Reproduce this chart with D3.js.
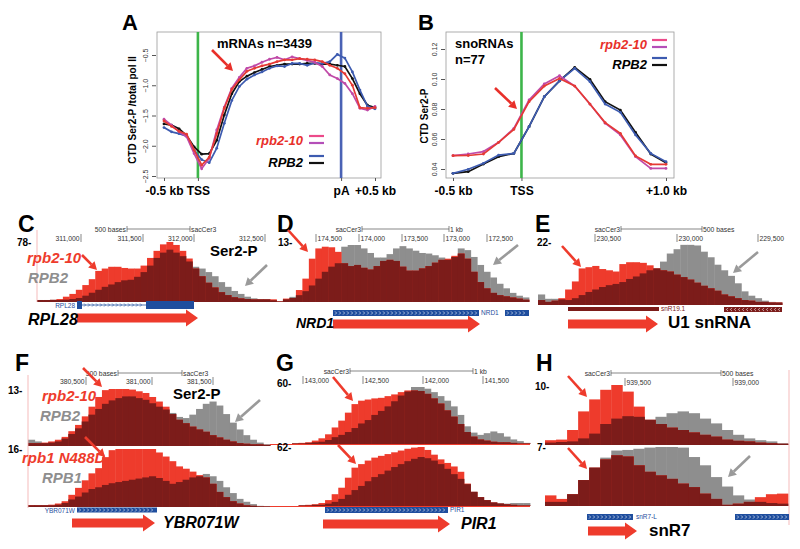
<!DOCTYPE html>
<html>
<head>
<meta charset="utf-8">
<script src="https://cdn.jsdelivr.net/npm/d3@7"></script>
<style>
  body { margin: 0; background: #fff; }
  svg { font-family: "Liberation Sans", Arial, Helvetica, sans-serif; }
</style>
</head>
<body>
<svg id="fig" width="800" height="549"></svg>
<script>
// ---------- data: metagene profiles ----------
// panel A: 29 bins, -0.5 kb .. TSS .. gene body .. pA .. +0.5 kb
const mrnaRed     = [-1.59,-1.68,-1.76,-1.81,-2.07,-2.32,-2.19,-1.80,-1.38,-1.07,-0.91,-0.77,-0.72,-0.68,-0.65,-0.61,-0.58,-0.58,-0.56,-0.57,-0.58,-0.61,-0.67,-0.72,-0.81,-1.00,-1.37,-1.38,-1.37];
const mrnaMagenta = [-1.56,-1.66,-1.77,-1.85,-2.13,-2.38,-2.21,-1.74,-1.36,-1.05,-0.87,-0.72,-0.68,-0.62,-0.57,-0.54,-0.58,-0.53,-0.56,-0.59,-0.62,-0.69,-0.83,-0.89,-0.97,-1.14,-1.38,-1.41,-1.35];
const mrnaBlack   = [-1.64,-1.66,-1.72,-1.83,-2.02,-2.14,-2.13,-1.91,-1.49,-1.14,-0.94,-0.85,-0.79,-0.74,-0.69,-0.67,-0.65,-0.65,-0.65,-0.64,-0.64,-0.65,-0.65,-0.67,-0.69,-0.89,-1.14,-1.33,-1.37];
const mrnaBlue    = [-1.70,-1.77,-1.80,-1.84,-2.07,-2.23,-2.28,-2.04,-1.63,-1.25,-1.02,-0.90,-0.83,-0.78,-0.72,-0.68,-0.69,-0.64,-0.64,-0.67,-0.63,-0.64,-0.61,-0.49,-0.55,-0.78,-1.08,-1.35,-1.39];
const mrnaYTicks  = [-2.5, -2.0, -1.5, -1.0, -0.5];
const mrnaXTicks  = [0, 4.5, 23.5, 28];
const mrnaXLabels = ["-0.5 kb", "TSS", "pA", "+0.5 kb"];

// panel B: 15 bins, -0.5 kb .. +1.0 kb
const snoRed     = [0.0489,0.0490,0.0500,0.0578,0.0664,0.0849,0.0953,0.1004,0.0953,0.0833,0.0709,0.0638,0.0487,0.0431,0.0431];
const snoMagenta = [0.0489,0.0500,0.0516,0.0578,0.0670,0.0860,0.0967,0.1022,0.0953,0.0833,0.0705,0.0627,0.0482,0.0404,0.0404];
const snoBlue    = [0.0371,0.0398,0.0438,0.0493,0.0504,0.0682,0.0882,0.0987,0.1071,0.0982,0.0833,0.0778,0.0627,0.0504,0.0449];
const snoBlack   = [0.0371,0.0382,0.0433,0.0482,0.0504,0.0682,0.0882,0.0987,0.1078,0.0998,0.0849,0.0793,0.0644,0.0500,0.0442];
const snoYTicks  = [0.04, 0.06, 0.08, 0.10, 0.12];
const snoXTicks  = [0, 4.5, 14];
const snoXLabels = ["-0.5 kb", "TSS", "+1.0 kb"];

// ---------- data: genome browser tracks (percent of track scale) ----------
const rpl28Mut = [1.7,1.7,1.9,3.3,7.3,12,19,27,37,51,55,58,58,56,55,55,60,73,85,96,100,95,85,72,55,42,31,23,15,10,6.4,4.5,3.3,2.8,2.8,2.8];
const rpl28Wt  = [1.7,1.7,1.9,1.7,2.3,3.3,5.1,9,14,19,24,28,32,35,36,41,49,60,73,82,87,82,76,67,58,55,49,42,32,24,17,12,7.3,4.5,3.3,3.3];
const nrd1Mut  = [4.7,1,6,7,21,41,76,94,97,96,88,68,63,65,60,57,63,72,74,72,62,55,55,59,63,69,74,76,81,85,76,53,35,24,16,12,10,8,6,4];
const nrd1Wt   = [3,1,4.7,9,12,19,29,41,53,62,68,97,100,100,94,86,78,78,84,94,98,94,90,86,85,82,78,74,79,94,91,79,65,53,43,32,24,16,11,8];
const u1Mut    = [8,5,7,11,25,38,59,61,63,58,56,54,66,69,69,68,64,59,56,54,49,45,41,36,31,27,23,17,14,11,8,7,5,5,4,4];
const u1Wt     = [17,10,10,9,8,11,16,21,25,29,32,34,37,42,46,51,56,59,70,83,90,97,97,96,86,77,65,56,47,35,22,15,11,7,5,4];
const ybrMut   = [5,5,6,8,11,16,26,37,52,69,86,98,100,100,100,99,96,93,86,78,69,56,46,40,34,29,25,19,15,11,8,5,4,3,3,2];
const ybrWt    = [11,8,5,6,8,13,21,31,43,55,65,74,80,84,87,87,84,81,75,69,64,58,51,49,55,65,74,78,71,56,41,29,19,11,6,3];
const ybrRpb1Mut = [3,3,3,4,6,10,21,33,46,58,67,86,98,100,100,100,100,100,100,94,87,79,70,66,61,55,51,40,26,17,10,6,3,2,1,1];
const ybrRpb1Wt  = [3,3,3,3,4,7,13,18,25,31,34,38,41,43,45,47,49,51,53,50,45,40,43,47,51,53,57,53,45,34,24,14,9,5,2,1];
const pir1Mut  = [1,2,3,6,10,17,29,41,55,70,76,78,80,81,84,87,91,94,94,93,88,80,71,59,48,35,21,13,8,6,4,3,3,2,1,1];
const pir1Wt   = [1,1,2,3,4,7,12,16,21,28,36,42,51,58,66,75,85,92,100,100,97,91,84,76,66,51,31,20,16,19,22,19,13,8,5,2];
const pir1Rpb1Mut = [0,1,2,3,5,10,20,31,48,65,71,77,82,85,88,91,94,97,99,100,95,87,79,73,67,58,38,24,15,10,6,4,3,2,1,1];
const pir1Rpb1Wt  = [0,1,1,2,2,4,7,12,19,27,34,42,49,54,60,66,71,76,80,83,81,77,71,63,54,46,37,24,15,10,6,5,4,5,5,5];
const snr7Mut  = [8,9,25,56,76,92,100,89,64,42,35,29,25,21,17,14,9,7,6,4,3,2];
const snr7Wt   = [4,5,6,11,19,35,44,48,47,42,47,53,56,53,44,36,25,17,11,8,6,3];
const snr7Rpb1Mut = [18,12,20,44,65,79,86,84,69,58,52,46,38,32,21,12,2,4,7,15,20,21];
const snr7Rpb1Wt  = [7,7,20,44,65,82,94,95,97,99,100,100,99,83,69,49,33,18,11,7,5,4];

// ---------- drawing ----------
const svg = d3.select('#fig');
const RED = '#ee3b2c', DARK = '#7c1c1a', GREY = '#8e8e8e', BLUE = '#1f4e9e';

function txt(x, y, s, o = {}) {
    return svg.append('text').attr('x', x).attr('y', y).text(s)
        .attr('font-size', o.size || 10)
        .attr('font-weight', o.weight || 'normal')
        .attr('font-style', o.style || 'normal')
        .attr('fill', o.fill || '#000')
        .attr('text-anchor', o.anchor || 'start');
}

function arrow(x1, y1, x2, y2, color) {
    const a = Math.atan2(y2 - y1, x2 - x1), hl = 8, hw = 4.5;
    const bx = x2 - hl * Math.cos(a), by = y2 - hl * Math.sin(a);
    svg.append('line').attr('x1', x1).attr('y1', y1).attr('x2', bx).attr('y2', by)
        .attr('stroke', color).attr('stroke-width', 2.6);
    const px = -Math.sin(a) * hw, py = Math.cos(a) * hw;
    svg.append('path')
        .attr('d', `M${x2},${y2}L${bx + px},${by + py}L${bx - px},${by - py}Z`)
        .attr('fill', color);
}

function drawProfile(cfg) {
    const g = svg.append('g');
    const [bx0, by0, bx1, by1] = cfg.box;
    const x = d3.scaleLinear().domain([0, cfg.n - 1]).range(cfg.xr);
    const y = d3.scaleLinear().domain(cfg.yd).range(cfg.yr);

    g.append('rect').attr('x', bx0).attr('y', by0).attr('width', bx1 - bx0).attr('height', by1 - by0)
        .attr('fill', 'none').attr('stroke', '#9a9a9a').attr('stroke-width', 0.8);

    const ya = g.append('g').attr('transform', `translate(${bx0 - 1},0)`)
        .call(d3.axisLeft(y).tickValues(cfg.yTicks).tickSize(4).tickFormat(cfg.yFmt));
    ya.select('.domain').remove();
    ya.selectAll('line').attr('stroke', '#555');
    ya.selectAll('text').attr('x', 0).attr('dy', 0)
        .attr('transform', 'translate(-8,0) rotate(-90)')
        .attr('text-anchor', 'middle').attr('font-size', 7).attr('fill', '#333')
        .attr('font-family', '"Liberation Sans", Arial, sans-serif');

    const xa = g.append('g').attr('transform', `translate(0,${by1})`)
        .call(d3.axisBottom(x).tickValues(cfg.xTicks).tickSize(3).tickPadding(5)
            .tickFormat((d, i) => cfg.xLabels[i]));
    xa.select('.domain').remove();
    xa.selectAll('line').attr('stroke', '#555');
    xa.selectAll('text').attr('font-size', 12).attr('font-weight', 'bold').attr('fill', '#000')
        .attr('font-family', '"Liberation Sans", Arial, sans-serif');

    cfg.vlines.forEach(v => {
        g.append('line').attr('x1', x(v.at)).attr('x2', x(v.at)).attr('y1', by0).attr('y2', by1)
            .attr('stroke', v.color).attr('stroke-width', 2.6);
    });

    const line = d3.line().x((d, i) => x(i)).y(d => y(d));
    cfg.series.forEach(s => {
        g.append('path').attr('d', line(s.vals)).attr('fill', 'none')
            .attr('stroke', s.color).attr('stroke-width', 1.7);
        g.append('g').selectAll('circle').data(s.vals).join('circle')
            .attr('cx', (d, i) => x(i)).attr('cy', d => y(d)).attr('r', 1.4).attr('fill', s.color);
    });
}

drawProfile({
    n: mrnaRed.length, box: [157, 32, 381, 178], xr: [164, 375], yd: [-2.5, -0.5], yr: [176, 55],
    yTicks: mrnaYTicks, yFmt: d3.format('.1f'), xTicks: mrnaXTicks, xLabels: mrnaXLabels,
    vlines: [{ at: 4.5, color: '#3db54a' }, { at: 23.5, color: '#4a62b5' }],
    series: [{ vals: mrnaBlack, color: '#111' }, { vals: mrnaBlue, color: '#3d5bb0' },
             { vals: mrnaMagenta, color: '#c04aa8' }, { vals: mrnaRed, color: '#e53a35' }]
});
drawProfile({
    n: snoRed.length, box: [446, 32, 674, 178], xr: [453, 666], yd: [0.04, 0.12], yr: [169, 49],
    yTicks: snoYTicks, yFmt: d3.format('.2f'), xTicks: snoXTicks, xLabels: snoXLabels,
    vlines: [{ at: 4.5, color: '#3db54a' }],
    series: [{ vals: snoBlack, color: '#111' }, { vals: snoBlue, color: '#3d5bb0' },
             { vals: snoMagenta, color: '#c04aa8' }, { vals: snoRed, color: '#e53a35' }]
});

// profile titles, y labels, legends
txt(122, 30, 'A', { size: 22, weight: 'bold' });
txt(418, 30, 'B', { size: 22, weight: 'bold' });
svg.append('text').attr('transform', 'translate(136,110) rotate(-90)').attr('text-anchor', 'middle')
    .attr('font-size', 10).attr('font-weight', 'bold').text('CTD Ser2-P /total pol II');
svg.append('text').attr('transform', 'translate(428,116) rotate(-90)').attr('text-anchor', 'middle')
    .attr('font-size', 10).attr('font-weight', 'bold').text('CTD Ser2-P');
txt(217, 48, 'mRNAs n=3439', { size: 13, weight: 'bold' });
txt(455, 48, 'snoRNAs', { size: 13, weight: 'bold' });
txt(455, 64, 'n=77', { size: 13, weight: 'bold' });

function legend(xt, xl, yRed, yBlk) {
    txt(xt, yRed, 'rpb2-10', { size: 13, weight: 'bold', style: 'italic', fill: '#e8302a', anchor: 'end' });
    txt(xt, yBlk, 'RPB2', { size: 13, weight: 'bold', style: 'italic', anchor: 'end' });
    [[yRed - 9, '#ec4a8a'], [yRed - 2, '#b44fb8'], [yBlk - 11, '#3d5bb0'], [yBlk - 4, '#111']].forEach(([yy, c]) => {
        svg.append('line').attr('x1', xl).attr('x2', xl + 15).attr('y1', yy).attr('y2', yy)
            .attr('stroke', c).attr('stroke-width', 2.2);
    });
}
legend(303, 309, 145, 167);
legend(647, 652, 49, 69);
arrow(212, 50, 233, 71, '#e8302a');
arrow(495, 88, 517, 109, '#e8302a');

// ---------- genome tracks ----------
function drawTrack(t) {
    const n = t.mut.length;
    const x = d3.scaleLinear().domain([0, n]).range([t.x0, t.x1]);
    const y = d3.scaleLinear().domain([0, 100]).range([t.base, t.top]).clamp(true);
    const bins = d3.range(n).map(i => ({ i, m: t.mut[i], w: t.wt[i] }));
    const g = svg.append('g');
    const layer = (val, color) => g.append('g').selectAll('rect').data(bins).join('rect')
        .attr('x', d => x(d.i)).attr('width', d => x(d.i + 1) - x(d.i) + 0.4)
        .attr('y', d => y(val(d))).attr('height', d => t.base - y(val(d)))
        .attr('fill', color);
    layer(d => d.w, GREY);
    layer(d => d.m, RED);
    layer(d => Math.min(d.m, d.w), DARK);
    if (t.baseLine) {
        g.append('line').attr('x1', t.baseLine[0]).attr('x2', t.baseLine[1])
            .attr('y1', t.base + 0.5).attr('y2', t.base + 0.5).attr('stroke', t.baseLine[2]).attr('stroke-width', 1);
    }
}

const tracks = [
    { mut: rpl28Mut, wt: rpl28Wt, x0: 37, x1: 270, top: 242, base: 301, baseLine: [37, 270, DARK] },
    { mut: nrd1Mut, wt: nrd1Wt, x0: 270, x1: 529, top: 245, base: 302 },
    { mut: u1Mut, wt: u1Wt, x0: 538, x1: 782, top: 243, base: 305 },
    { mut: ybrMut, wt: ybrWt, x0: 28, x1: 270, top: 389, base: 446 },
    { mut: ybrRpb1Mut, wt: ybrRpb1Wt, x0: 28, x1: 270, top: 449, base: 507 },
    { mut: pir1Mut, wt: pir1Wt, x0: 292, x1: 530, top: 387, base: 444, baseLine: [270, 530, RED] },
    { mut: pir1Rpb1Mut, wt: pir1Rpb1Wt, x0: 292, x1: 530, top: 447, base: 506, baseLine: [270, 530, RED] },
    { mut: snr7Mut, wt: snr7Wt, x0: 545, x1: 788, top: 385, base: 445 },
    { mut: snr7Rpb1Mut, wt: snr7Rpb1Wt, x0: 545, x1: 788, top: 447, base: 506 }
];
tracks.forEach(drawTrack);

// browser edge lines
svg.append('line').attr('x1', 37).attr('x2', 37).attr('y1', 230).attr('y2', 302).attr('stroke', '#f2a9a9').attr('stroke-width', 0.8);
svg.append('line').attr('x1', 28).attr('x2', 28).attr('y1', 375).attr('y2', 508).attr('stroke', '#f2a9a9').attr('stroke-width', 0.8);
svg.append('line').attr('x1', 789).attr('x2', 789).attr('y1', 370).attr('y2', 525).attr('stroke', '#f2a9a9').attr('stroke-width', 0.8);

// scale bars and coordinates
function scaleBar(leftText, xa, xb, yy, rightText) {
    svg.append('line').attr('x1', xa).attr('x2', xb).attr('y1', yy).attr('y2', yy).attr('stroke', '#555').attr('stroke-width', 0.7);
    [xa, xb].forEach(xx => svg.append('line').attr('x1', xx).attr('x2', xx).attr('y1', yy - 3).attr('y2', yy + 3)
        .attr('stroke', '#555').attr('stroke-width', 0.7));
    txt(xa - 1, yy + 2.5, leftText, { size: 6.8, fill: '#333', anchor: 'end' });
    txt(xb + 1, yy + 2.5, rightText, { size: 6.8, fill: '#333' });
}
function coords(pos, labels, yy, side) {
    pos.forEach((p, i) => {
        svg.append('line').attr('x1', p).attr('x2', p).attr('y1', yy - 7).attr('y2', yy + 1).attr('stroke', '#555').attr('stroke-width', 0.7);
        txt(side === 'left' ? p - 1.5 : p + 1.5, yy, labels[i], { size: 6.8, fill: '#333', anchor: side === 'left' ? 'end' : 'start' });
    });
}
scaleBar('500 bases', 127, 190, 229, 'sacCer3');
coords([81, 143, 194, 265], ['311,000', '311,500', '312,000', '312,500'], 241, 'left');
scaleBar('sacCer3', 362, 449, 229, '1 kb');
coords([316, 359, 402, 444, 487], ['174,500', '174,000', '173,500', '173,000', '172,500'], 241, 'right');
scaleBar('sacCer3', 621, 702, 229, '500 bases');
coords([595, 677, 758], ['230,500', '230,000', '229,500'], 241, 'right');
scaleBar('500 bases', 118, 182, 373, 'sacCer3');
coords([86, 152, 213], ['380,500', '381,000', '381,500'], 384, 'left');
scaleBar('sacCer3', 350, 473, 371, '1 kb');
coords([303, 363, 423, 483], ['143,000', '142,500', '142,000', '141,500'], 383, 'right');
scaleBar('sacCer3', 611, 721, 373, '500 bases');
coords([625, 733], ['939,500', '939,000'], 385, 'right');

// panel letters and track scale maxima
[['C', 18, 232], ['D', 277, 232], ['E', 535, 232], ['F', 15, 371], ['G', 276, 371], ['H', 536, 371]]
    .forEach(([s, xx, yy]) => txt(xx, yy, s, { size: 23, weight: 'bold' }));
[['78-', 17, 246], ['13-', 278, 246], ['22-', 537, 246], ['13-', 8, 394], ['16-', 8, 453],
 ['60-', 277, 387], ['62-', 277, 451], ['10-', 535, 390], ['7-', 537, 451]]
    .forEach(([s, xx, yy]) => txt(xx, yy, s, { size: 10, weight: 'bold' }));

// gene models
function chevrons(x0, x1, yc, dir, color) {
    let d = '';
    for (let xx = x0 + 3; xx < x1 - 2; xx += 4) {
        d += dir > 0 ? `M${xx - 1},${yc - 1.6}L${xx + 0.6},${yc}L${xx - 1},${yc + 1.6}`
                     : `M${xx + 1},${yc - 1.6}L${xx - 0.6},${yc}L${xx + 1},${yc + 1.6}`;
    }
    svg.append('path').attr('d', d).attr('fill', 'none').attr('stroke', color || '#fff').attr('stroke-width', 0.6);
}
function geneBox(x0, x1, yc, h, color, dir) {
    svg.append('rect').attr('x', x0).attr('y', yc - h / 2).attr('width', x1 - x0).attr('height', h).attr('fill', color);
    if (dir) chevrons(x0, x1, yc, dir);
}
// RPL28 (with intron)
svg.append('line').attr('x1', 82).attr('x2', 146).attr('y1', 305).attr('y2', 305).attr('stroke', BLUE).attr('stroke-width', 0.8);
chevrons(82, 146, 305, 1, BLUE);
geneBox(77, 82, 305, 8, BLUE);
geneBox(146, 194, 305, 8, BLUE);
txt(75, 307.5, 'RPL28', { size: 6.5, fill: BLUE, anchor: 'end' });
geneBox(333, 479, 313, 6, BLUE, 1);
geneBox(505, 529, 313, 6, BLUE, 1);
txt(481, 315, 'NRD1', { size: 6.5, fill: BLUE });
geneBox(568, 659, 309, 4, DARK);
txt(661, 311, 'snR19.1', { size: 6.5, fill: DARK });
geneBox(724, 782, 309.5, 5, DARK, -1);
geneBox(77, 157, 510, 5, BLUE, 1);
txt(75, 512.5, 'YBR071W', { size: 6.5, fill: BLUE, anchor: 'end' });
geneBox(325, 448, 510, 6, BLUE, 1);
txt(450, 512, 'PIR1', { size: 6.5, fill: BLUE });
geneBox(587, 633, 517, 6, BLUE, 1);
txt(636, 519, 'snR7-L', { size: 6.5, fill: BLUE });
geneBox(735, 789, 517, 6, BLUE, 1);

// transcription arrows
function bigArrow(x0, x1, yc) {
    const s = 4.6, h = 8.5, hl = 12;
    svg.append('path').attr('fill', RED)
        .attr('d', `M${x0},${yc - s}L${x1 - hl},${yc - s}L${x1 - hl},${yc - h}L${x1},${yc}L${x1 - hl},${yc + h}L${x1 - hl},${yc + s}L${x0},${yc + s}Z`);
}
bigArrow(77, 198, 318);
bigArrow(333, 480, 324);
bigArrow(568, 658, 324);
bigArrow(72, 155, 523);
bigArrow(323, 450, 524);
bigArrow(588, 637, 531);

// track texts
const bi = { size: 16, weight: 'bold', style: 'italic' };
txt(28, 325, 'RPL28', bi);
txt(296, 328, 'NRD1', { size: 14, weight: 'bold', style: 'italic' });
txt(668, 328, 'U1 snRNA', { size: 17, weight: 'bold' });
txt(163, 528, 'YBR071W', bi);
txt(461, 529, 'PIR1', bi);
txt(649, 536, 'snR7', { size: 17, weight: 'bold' });
txt(27, 263, 'rpb2-10', { size: 15, weight: 'bold', style: 'italic', fill: RED });
txt(28, 283, 'RPB2', { size: 15, weight: 'bold', style: 'italic', fill: GREY });
txt(210, 256, 'Ser2-P', { size: 15, weight: 'bold' });
txt(42, 401, 'rpb2-10', { size: 15, weight: 'bold', style: 'italic', fill: RED });
txt(40, 421, 'RPB2', { size: 15, weight: 'bold', style: 'italic', fill: GREY });
txt(173, 399, 'Ser2-P', { size: 15, weight: 'bold' });
txt(22, 463, 'rpb1 N488D', { size: 15, weight: 'bold', style: 'italic', fill: RED });
txt(42, 483, 'RPB1', { size: 15, weight: 'bold', style: 'italic', fill: GREY });

// annotation arrows
const redArrows = [[82, 255, 97, 270], [288, 230, 308, 252], [562, 246, 581, 267], [83, 368, 102, 387],
                   [85, 437, 105, 457], [333, 377, 353, 401], [338, 445, 356, 464], [568, 376, 587, 397], [568, 448, 587, 469]];
const greyArrows = [[267, 265, 245, 286], [518, 245, 493, 265], [758, 252, 733, 273], [260, 400, 235, 422], [750, 456, 728, 477]];
redArrows.forEach(a => arrow(...a, RED));
greyArrows.forEach(a => arrow(...a, '#9a9a9a'));
</script>
</body>
</html>
